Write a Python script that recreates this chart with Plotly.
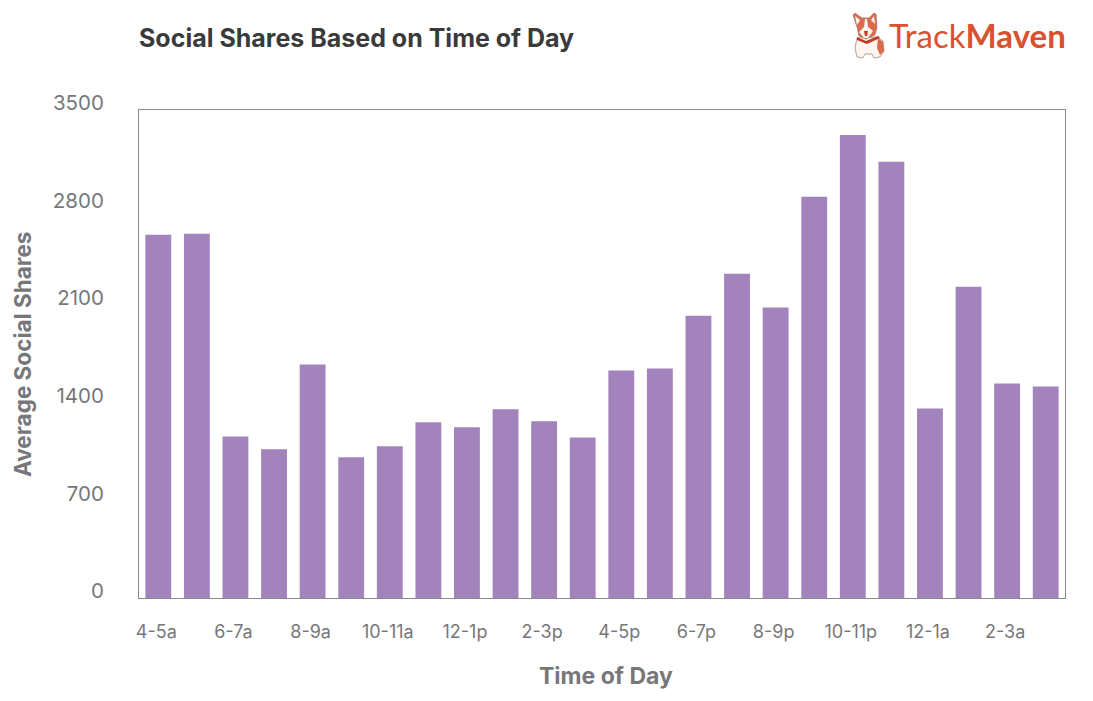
import plotly.graph_objects as go

hours = ["4-5a", "5-6a", "6-7a", "7-8a", "8-9a", "9-10a", "10-11a", "11a-12p",
         "12-1p", "1-2p", "2-3p", "3-4p", "4-5p", "5-6p", "6-7p", "7-8p",
         "8-9p", "9-10p", "10-11p", "11p-12a", "12-1a", "1-2a", "2-3a", "3-4a"]
shares = [2605, 2612, 1159, 1066, 1675, 1009, 1088, 1260,
          1224, 1353, 1267, 1152, 1632, 1646, 2025, 2326,
          2083, 2877, 3321, 3128, 1360, 2233, 1539, 1517]
y_ticks = [0, 700, 1400, 2100, 2800, 3500]
x_ticks = hours[::2]

W, H = 1093, 701
L, R, T, B = 139, 1065, 110, 598
FONT = "Inter"
GREY = "#77777a"
DOG = "#dc6a4c"
CREAM = "#fdf6f0"
OUTLINE = "#9a7a6c"


def px(x):
    return (x - L) / (R - L)


def py(y):
    return (B - y) / (B - T)


def path(points, close=True):
    # logo outline, page pixels -> paper coords
    s = "M " + " L ".join(f"{px(x):.5f},{py(y):.5f}" for x, y in points)
    return s + (" Z" if close else "")


fig = go.Figure(go.Bar(x=hours, y=shares, marker_color="#a283bb", marker_line_width=0, width=0.67))

# corgi next to the wordmark
body = [(857, 38), (855, 48), (857, 57), (863, 58), (865, 54), (872, 54), (874, 58), (880, 57),
        (884, 51), (883, 41), (878, 37)]
back = [(878, 38), (883, 42), (884, 51), (880, 55), (877, 48)]
head = [(857, 27), (853, 15), (855, 13), (862, 18), (869, 18), (874, 13), (876, 14), (877, 27),
        (875, 35), (866, 39), (859, 36)]
ear_l = [(855, 16), (860, 20), (857, 25)]
ear_r = [(874, 16), (875, 24), (871, 20)]
muzzle = [(865, 19), (867, 19), (868, 27), (873, 31), (868, 38), (864, 38), (859, 32), (864, 27)]
tongue = [(864, 31), (868, 31), (867, 36), (865, 36)]
collar = [(857, 37), (866, 41), (878, 36), (880, 38), (867, 44), (857, 40)]
logo_parts = [
    (body, CREAM, 0.7), (back, DOG, 0), (head, DOG, 0.7), (ear_l, CREAM, 0), (ear_r, CREAM, 0),
    (muzzle, CREAM, 0), (tongue, "#c8381f", 0), (collar, "#c8381f", 0),
]
logo_shapes = [
    dict(type="path", path=path(pts), fillcolor=col, xref="paper", yref="paper", layer="above",
         line=dict(color=OUTLINE, width=lw))
    for pts, col, lw in logo_parts
]

fig.update_layout(
    width=W, height=H,
    margin=dict(l=L, r=W - R, t=T, b=H - B, pad=0),
    paper_bgcolor="white", plot_bgcolor="white",
    font=dict(family=FONT, color=GREY),
    showlegend=False,
    shapes=logo_shapes,
    title=dict(text="<b>Social Shares Based on Time of Day</b>", x=px(139), xref="paper", xanchor="left",
               y=1 - 38 / H, yanchor="middle", font=dict(size=25, color="#3a3a3a", family=FONT)),
    xaxis=dict(
        type="category", categoryorder="array", categoryarray=hours,
        tickmode="array", tickvals=x_ticks, ticktext=x_ticks,
        ticks="", showgrid=False, zeroline=False,
        showline=True, mirror=True, linecolor="#8a8a8a", linewidth=1,
        tickfont=dict(size=18, color=GREY), ticklabelstandoff=17, ticklabelshift=-2,
    ),
    yaxis=dict(
        range=[0, 3500], tickmode="array", tickvals=y_ticks,
        ticks="", showgrid=False, zeroline=False,
        showline=True, mirror=True, linecolor="#8a8a8a", linewidth=1,
        tickfont=dict(size=20.5, color=GREY), ticklabelstandoff=30, ticklabelshift=-7,
    ),
    annotations=[
        dict(text="Track<b>Maven</b>", xref="paper", yref="paper", x=px(1068), y=py(35),
             xanchor="right", yanchor="middle", showarrow=False,
             font=dict(size=33, color="#d9512f", family="Lato")),
        dict(text="<b>Time of Day</b>", xref="paper", yref="paper", x=px(606), y=py(676),
             xanchor="center", yanchor="middle", showarrow=False,
             font=dict(size=23, color=GREY)),
        dict(text="<b>Average Social Shares</b>", xref="paper", yref="paper", x=px(22), y=py(355),
             xanchor="center", yanchor="middle", showarrow=False, textangle=-90,
             font=dict(size=22.5, color=GREY)),
    ],
)

fig.write_html("out.html", config=dict(displayModeBar=False), post_script="document.body.style.margin='0';")
